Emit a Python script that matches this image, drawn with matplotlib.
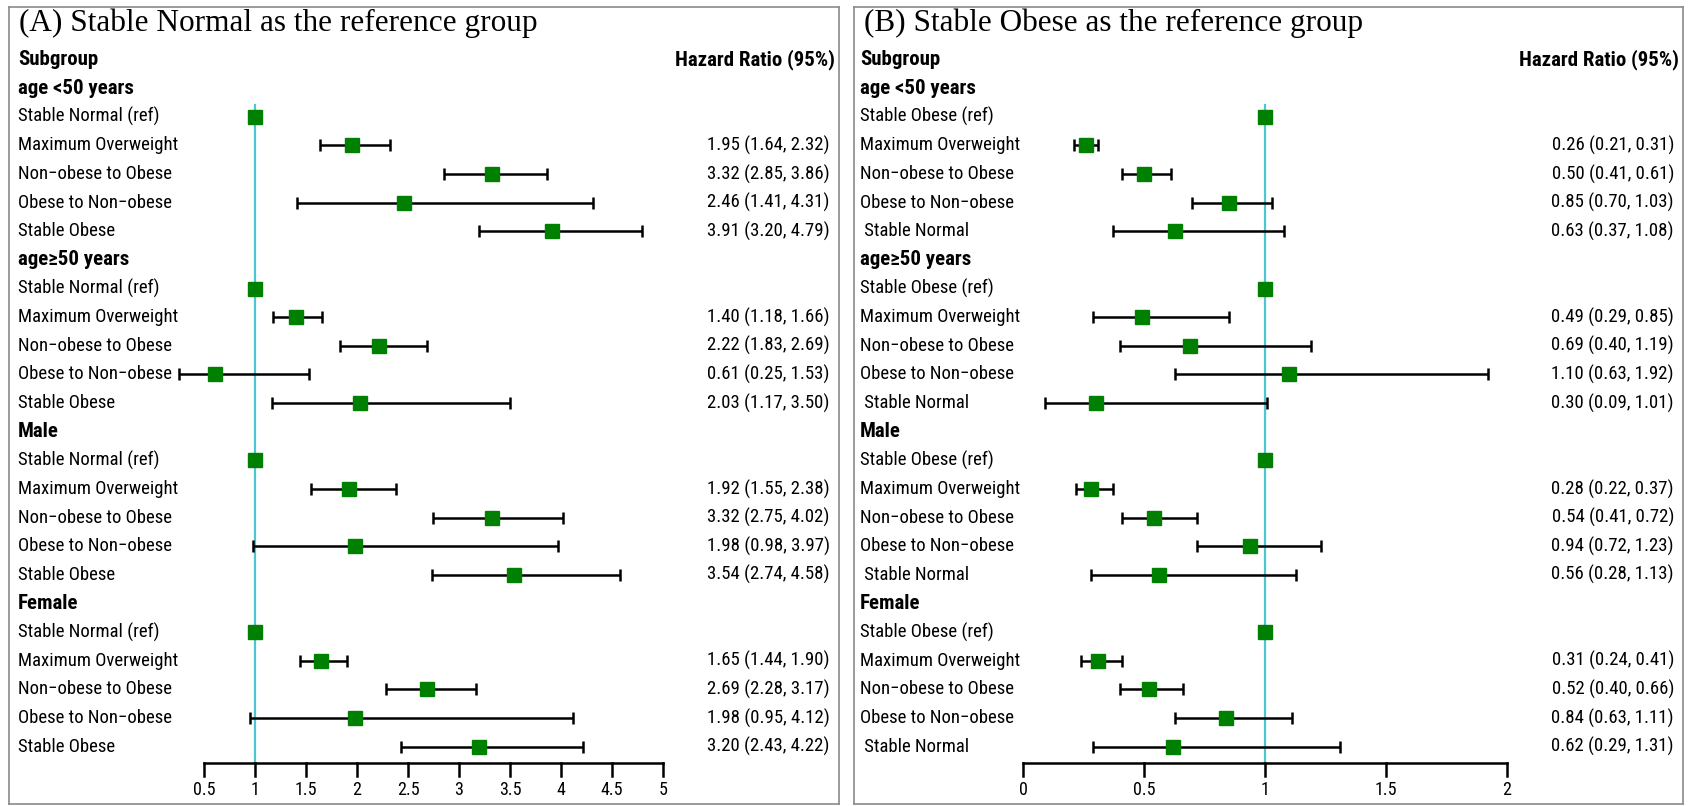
import matplotlib
matplotlib.use("Agg")
import matplotlib.pyplot as plt
import matplotlib.transforms as mtransforms

# ---- data ----
groups = ["age <50 years", "age\u226550 years", "Male", "Female"]

labels_a = ["Stable Normal (ref)", "Maximum Overweight", "Non\u2212obese to Obese",
            "Obese to Non\u2212obese", "Stable Obese"]
hr_a = [[1.95, 3.32, 2.46, 3.91],
        [1.40, 2.22, 0.61, 2.03],
        [1.92, 3.32, 1.98, 3.54],
        [1.65, 2.69, 1.98, 3.20]]
lo_a = [[1.64, 2.85, 1.41, 3.20],
        [1.18, 1.83, 0.25, 1.17],
        [1.55, 2.75, 0.98, 2.74],
        [1.44, 2.28, 0.95, 2.43]]
hi_a = [[2.32, 3.86, 4.31, 4.79],
        [1.66, 2.69, 1.53, 3.50],
        [2.38, 4.02, 3.97, 4.58],
        [1.90, 3.17, 4.12, 4.22]]
ticks_a = [0.5, 1, 1.5, 2, 2.5, 3, 3.5, 4, 4.5, 5]
ticklabels_a = ["0.5", "1", "1.5", "2", "2.5", "3", "3.5", "4", "4.5", "5"]

labels_b = ["Stable Obese (ref)", "Maximum Overweight", "Non\u2212obese to Obese",
            "Obese to Non\u2212obese", " Stable Normal"]
hr_b = [[0.26, 0.50, 0.85, 0.63],
        [0.49, 0.69, 1.10, 0.30],
        [0.28, 0.54, 0.94, 0.56],
        [0.31, 0.52, 0.84, 0.62]]
lo_b = [[0.21, 0.41, 0.70, 0.37],
        [0.29, 0.40, 0.63, 0.09],
        [0.22, 0.41, 0.72, 0.28],
        [0.24, 0.40, 0.63, 0.29]]
hi_b = [[0.31, 0.61, 1.03, 1.08],
        [0.85, 1.19, 1.92, 1.01],
        [0.37, 0.72, 1.23, 1.13],
        [0.41, 0.66, 1.11, 1.31]]
ticks_b = [0, 0.5, 1, 1.5, 2]
ticklabels_b = ["0", "0.5", "1", "1.5", "2"]

SANS = ["Roboto Condensed", "DejaVu Sans"]
SERIF = ["Liberation Serif", "DejaVu Serif"]
GREEN = "#008000"
CYAN = "#4cc6d4"
FS = 13.5     # row labels / values
FSB = 15      # bold headers
FST = 13      # tick labels

W, H = 1690, 806
fig = plt.figure(figsize=(W / 100, H / 100), dpi=100)


def forest(box, xlim, title, labels, hr, lo, hi, ticks, ticklabels, lab_x, hr_x, head_x):
    l, r, t, b = box
    ax = fig.add_axes([l / W, 1 - b / H, (r - l) / W, (b - t) / H])
    ax.set_xlim(*xlim)
    ax.set_ylim(26.0, -1.83)
    ax.set_xticks([])
    ax.set_yticks([])
    for s in ax.spines.values():
        s.set_color("#8a8a8a")
        s.set_linewidth(1.2)
    tr = mtransforms.blended_transform_factory(ax.transAxes, ax.transData)

    ax.text(0.012, -1.25, title, transform=tr, fontsize=22.5, family=SERIF, va="center")
    ax.text(lab_x, 0, "Subgroup", transform=tr, fontsize=FSB, family=SANS,
            fontweight="bold", va="center")
    ax.text(head_x, 0, "Hazard Ratio (95%)", transform=tr, fontsize=FSB, family=SANS,
            fontweight="bold", va="center", ha="right")

    # reference line
    ax.plot([1, 1], [1.6, 24.56], color=CYAN, lw=1.6, zorder=1)

    row = 1
    for g in range(len(groups)):
        ax.text(lab_x, row, groups[g], transform=tr, fontsize=FSB, family=SANS,
                fontweight="bold", va="center")
        row += 1
        ax.text(lab_x, row, labels[0], transform=tr, fontsize=FS, family=SANS, va="center")
        ax.plot([1], [row], marker="s", ms=10, color=GREEN, mec=GREEN, zorder=3)
        row += 1
        for k in range(4):
            ax.text(lab_x, row, labels[k + 1], transform=tr, fontsize=FS, family=SANS,
                    va="center")
            e = hr[g][k]
            ax.errorbar([e], [row], xerr=[[e - lo[g][k]], [hi[g][k] - e]], fmt="s",
                        ms=10, color=GREEN, mec=GREEN, ecolor="black", elinewidth=1.8,
                        capsize=4, capthick=1.8, zorder=3)
            ax.text(hr_x, row, "%.2f (%.2f, %.2f)" % (e, lo[g][k], hi[g][k]),
                    transform=tr, fontsize=FS, family=SANS, va="center", ha="right")
            row += 1

    # bottom axis
    ya = 24.56
    ax.plot([ticks[0], ticks[-1]], [ya, ya], color="black", lw=1.8, zorder=2)
    for tk, tl in zip(ticks, ticklabels):
        ax.plot([tk, tk], [ya, ya + 0.45], color="black", lw=1.8, zorder=2)
        ax.text(tk, 25.5, tl, fontsize=FST, family=SANS, ha="center", va="center")
    return ax


# panel A: 0.5 -> 204px, 1 unit = 102px
la, ra = 9, 839
xa = (0.5 - (204 - la) / 102.0, 0.5 + (ra - 204) / 102.0)
forest((la, ra, 7, 804), xa, "(A) Stable Normal as the reference group",
       labels_a, hr_a, lo_a, hi_a, ticks_a, ticklabels_a, 0.011, 0.989, 0.995)

# panel B: 0 -> 1023px, 1 unit = 242px
lb, rb = 854, 1683
xb = (0 - (1023 - lb) / 242.0, 0 + (rb - 1023) / 242.0)
forest((lb, rb, 7, 804), xb, "(B) Stable Obese as the reference group",
       labels_b, hr_b, lo_b, hi_b, ticks_b, ticklabels_b, 0.007, 0.989, 0.995)

fig.savefig("out.png", dpi=100)
